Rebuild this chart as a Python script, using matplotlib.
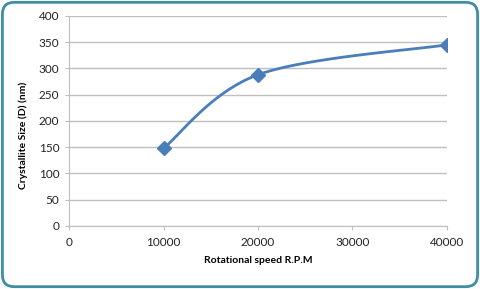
import matplotlib
matplotlib.use("Agg")
import matplotlib.pyplot as plt
from matplotlib.patches import FancyBboxPatch
import numpy as np

# data
rpm = [10000, 20000, 40000]
crystallite_size = [148, 288, 345]
x_ticks = [0, 10000, 20000, 30000, 40000]
y_ticks = [0, 50, 100, 150, 200, 250, 300, 350, 400]

LINE_COLOR = "#4a7ebb"
GRID_COLOR = "#bfbfbf"
BORDER_COLOR = "#3f8ea6"

plt.rcParams['font.family'] = ['Lato', 'DejaVu Sans']


def excel_smooth(xs, ys, steps=40):
    # bezier through the points, control points like Excel's smoothed line
    xs = np.asarray(xs, float)
    ys = np.asarray(ys, float)
    px = np.concatenate([[xs[0]], xs, [xs[-1]]])
    py = np.concatenate([[ys[0]], ys, [ys[-1]]])
    out_x, out_y = [], []
    t = np.linspace(0, 1, steps)
    for i in range(1, len(px) - 2):
        p0 = np.array([px[i], py[i]])
        p3 = np.array([px[i + 1], py[i + 1]])
        p1 = p0 + (np.array([px[i + 1], py[i + 1]]) - np.array([px[i - 1], py[i - 1]])) / 6
        p2 = p3 - (np.array([px[i + 2], py[i + 2]]) - np.array([px[i], py[i]])) / 6
        b = ((1 - t) ** 3)[:, None] * p0 + (3 * (1 - t) ** 2 * t)[:, None] * p1 \
            + (3 * (1 - t) * t ** 2)[:, None] * p2 + (t ** 3)[:, None] * p3
        out_x.extend(b[:, 0])
        out_y.extend(b[:, 1])
    return out_x, out_y


fig = plt.figure(figsize=(4.8, 2.89), dpi=100)
border = FancyBboxPatch((0.005, 0.008), 0.99, 0.984,
                        boxstyle="round,pad=0,rounding_size=0.025",
                        mutation_aspect=480 / 289,
                        transform=fig.transFigure, facecolor="white",
                        edgecolor=BORDER_COLOR, linewidth=2.0, zorder=-1)
fig.patches.append(border)

ax = fig.add_axes([0.144, 0.218, 0.787, 0.727])
ax.set_facecolor("none")

sx, sy = excel_smooth(rpm, crystallite_size)
ax.plot(sx, sy, color=LINE_COLOR, linewidth=2)
ax.plot(rpm, crystallite_size, linestyle="none", marker="D", markersize=7,
        color=LINE_COLOR)

ax.set_xlim(0, 40000)
ax.set_ylim(0, 400)
ax.set_xticks(x_ticks)
ax.set_yticks(y_ticks)
ax.yaxis.grid(True, color=GRID_COLOR, linewidth=1)
ax.set_axisbelow(True)
for side in ["top", "right"]:
    ax.spines[side].set_visible(False)
for side in ["left", "bottom"]:
    ax.spines[side].set_color(GRID_COLOR)
ax.tick_params(axis="both", colors=GRID_COLOR, labelcolor="#222222",
               labelsize=8.5, length=3, direction="out")
ax.tick_params(axis="x", pad=5)
ax.tick_params(axis="y", pad=4)

ax.set_xlabel("Rotational speed R.P.M", fontsize=7.5, fontweight="bold",
              labelpad=6)
ax.set_ylabel("Crystallite Size (D) (nm)", fontsize=7.5, fontweight="bold")
ax.yaxis.set_label_coords(-0.108, 0.43)

fig.savefig("out.png", dpi=100)
